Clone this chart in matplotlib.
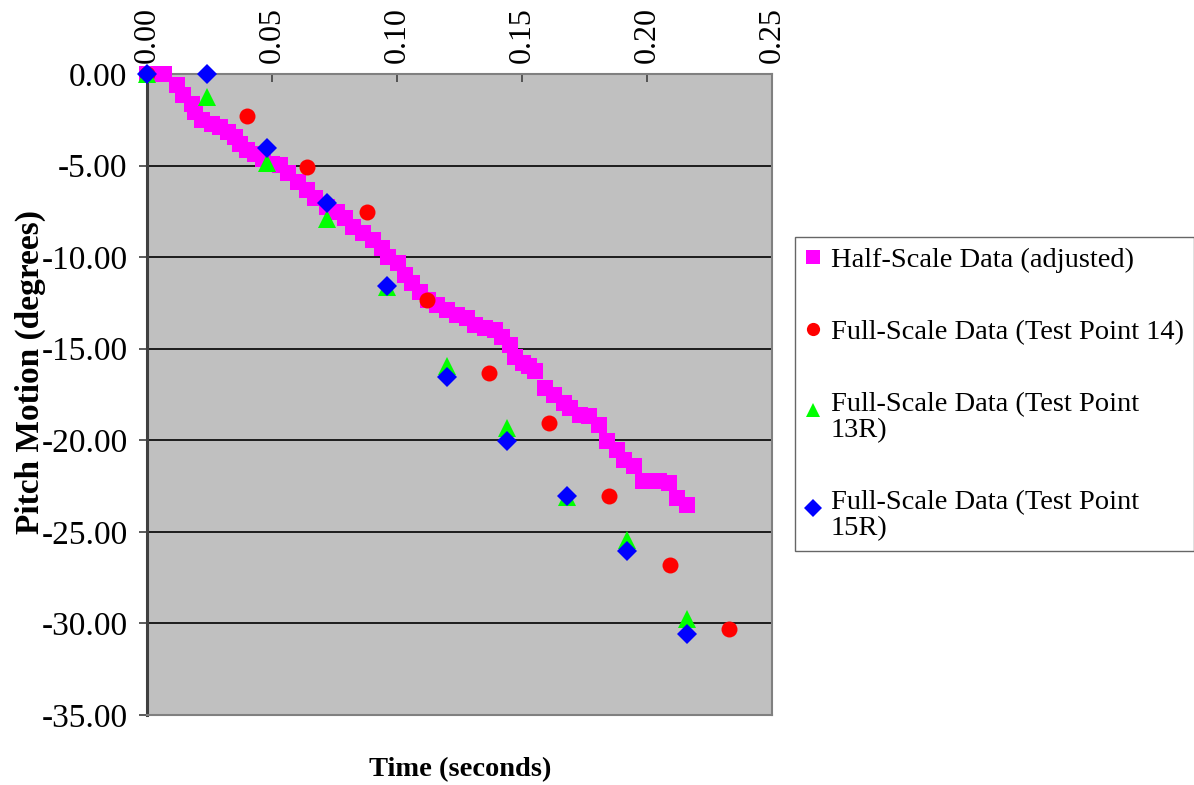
import matplotlib
matplotlib.use("Agg")
import matplotlib.pyplot as plt
from matplotlib.ticker import FormatStrFormatter, MultipleLocator
from matplotlib.legend_handler import HandlerLine2D

plt.rcParams['font.family'] = ['Liberation Serif', 'DejaVu Serif']

# Half-scale data (adjusted)
half_t = [0.0000, 0.0033, 0.0067, 0.0119, 0.0145, 0.0179, 0.0192, 0.0219, 0.0259,
          0.0292, 0.0325, 0.0352, 0.0372, 0.0399, 0.0432, 0.0465, 0.0499, 0.0532,
          0.0565, 0.0605, 0.0639, 0.0672, 0.0719, 0.0759, 0.0792, 0.0825, 0.0865,
          0.0905, 0.0939, 0.0965, 0.1005, 0.1032, 0.1059, 0.1092, 0.1125, 0.1159,
          0.1199, 0.1239, 0.1279, 0.1312, 0.1352, 0.1392, 0.1419, 0.1452, 0.1472,
          0.1505, 0.1527, 0.1553, 0.1593, 0.1627, 0.1667, 0.1693, 0.1733, 0.1767,
          0.1807, 0.1840, 0.1880, 0.1907, 0.1947, 0.1984, 0.2016, 0.2047, 0.2087,
          0.2120, 0.2160]
half_y = [0.00, 0.00, 0.00, -0.62, -1.16, -1.62, -2.08, -2.53, -2.71,
          -2.89, -3.17, -3.44, -3.80, -4.17, -4.35, -4.63, -4.90, -4.97,
          -5.42, -5.88, -6.34, -6.79, -7.25, -7.52, -7.88, -8.34, -8.70,
          -9.07, -9.52, -9.98, -10.34, -10.98, -11.43, -11.89, -12.34, -12.62,
          -12.89, -13.16, -13.34, -13.71, -13.89, -13.98, -14.35, -14.80, -15.44,
          -15.80, -15.96, -16.24, -17.15, -17.52, -17.97, -18.24, -18.61, -18.69,
          -19.15, -20.06, -20.52, -21.07, -21.43, -22.23, -22.23, -22.23, -22.34,
          -23.16, -23.52]

# Full-scale test points
tp14_t = [0.0, 0.0399, 0.0639, 0.0879, 0.1119, 0.1369, 0.1609, 0.1849, 0.2092, 0.2329]
tp14_y = [0.0, -2.29, -5.06, -7.54, -12.34, -16.35, -19.04, -23.03, -26.83, -30.33]

tp13r_t = [0.0, 0.024, 0.048, 0.072, 0.096, 0.120, 0.144, 0.168, 0.192, 0.216]
tp13r_y = [0.0, -1.27, -4.88, -7.94, -11.65, -15.93, -19.35, -23.10, -25.45, -29.77]

tp15r_t = [0.0, 0.024, 0.048, 0.072, 0.096, 0.120, 0.144, 0.168, 0.192, 0.216]
tp15r_y = [0.0, -0.02, -4.06, -7.06, -11.56, -16.53, -20.04, -23.03, -26.03, -30.55]


class FirstLineHandler(HandlerLine2D):
    # put the legend marker beside the first line of a two-line label
    def __init__(self, shift, **kw):
        super().__init__(**kw)
        self.shift = shift

    def create_artists(self, legend, orig_handle, xdescent, ydescent,
                       width, height, fontsize, trans):
        return super().create_artists(legend, orig_handle, xdescent,
                                      ydescent - self.shift, width, height,
                                      fontsize, trans)


fig = plt.figure(figsize=(11.94, 7.85), dpi=100)
ax = fig.add_axes([147 / 1194, 1 - 715 / 785, 625 / 1194, 641 / 785])
ax.set_facecolor('#C0C0C0')

ax.set_xlim(0, 0.25)
ax.set_ylim(-35, 0)
ax.yaxis.set_major_locator(MultipleLocator(5))
ax.xaxis.set_major_locator(MultipleLocator(0.05))
ax.yaxis.set_major_formatter(FormatStrFormatter('%.2f'))
ax.xaxis.set_major_formatter(FormatStrFormatter('%.2f'))
ax.grid(axis='y', color='black', linewidth=1.2)
ax.set_axisbelow(True)

l1, = ax.plot(half_t, half_y, 's', color='#FF00FF', ms=11.5, mew=0,
              label='Half-Scale Data (adjusted)', clip_on=False, zorder=3)
l2, = ax.plot(tp14_t, tp14_y, 'o', color='#FF0000', ms=11.5, mew=0,
              label='Full-Scale Data (Test Point 14)', clip_on=False, zorder=4)
l3, = ax.plot(tp13r_t, tp13r_y, '^', color='#00FF00', ms=13, mew=0,
              label='Full-Scale Data (Test Point\n13R)', clip_on=False, zorder=5)
l4, = ax.plot(tp15r_t, tp15r_y, 'D', color='#0000FF', ms=10.5, mew=0,
              label='Full-Scale Data (Test Point\n15R)', clip_on=False, zorder=6)

# x axis on top, ticks pointing into the plot
ax.xaxis.tick_top()
ax.tick_params(axis='x', direction='in', length=6, width=1.2, color='#404040',
               labelsize=23, pad=8, labelrotation=90)
ax.tick_params(axis='y', direction='out', length=6, width=1.2, color='#404040',
               labelsize=24, pad=8)
for lbl in ax.get_xticklabels():
    lbl.set_verticalalignment('bottom')

for s in ['top', 'right', 'bottom']:
    ax.spines[s].set_color('#808080')
    ax.spines[s].set_linewidth(1.5)
ax.spines['left'].set_color('#404040')
ax.spines['left'].set_linewidth(2.2)

fig.text(30 / 1194, 1 - 372 / 785, 'Pitch Motion (degrees)', rotation=90,
         ha='center', va='center', fontsize=24, fontweight='bold')
fig.text(460 / 1194, 1 - 770 / 785, 'Time (seconds)',
         ha='center', va='center', fontsize=20.5, fontweight='bold')

shift = 11
leg = fig.legend(handles=[l1, l2, l3, l4],
                 handler_map={l3: FirstLineHandler(shift), l4: FirstLineHandler(shift)},
                 loc='center left', bbox_to_anchor=(795 / 1194, 1 - 394 / 785),
                 fontsize=20.5, frameon=True, fancybox=False, labelspacing=1.65,
                 handlelength=0.55, handletextpad=0.35, borderpad=0.35,
                 borderaxespad=0)
leg.get_frame().set_edgecolor('#404040')
leg.get_frame().set_linewidth(1.0)
for t in leg.get_texts():
    t.set_linespacing(1.05)
for h in leg.legend_handles:
    h.set_markersize(9.5)

fig.savefig('out.png', dpi=100)
